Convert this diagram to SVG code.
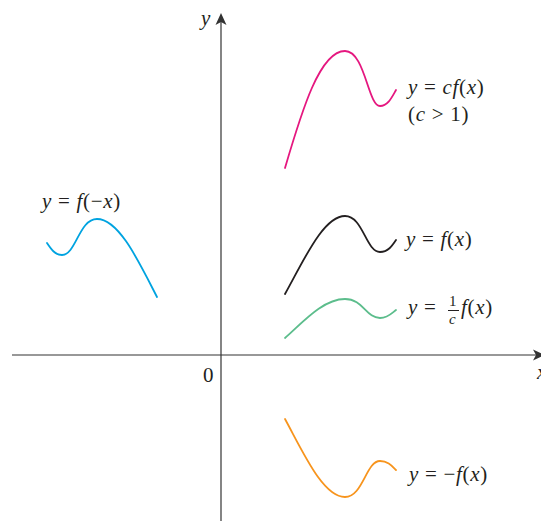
<svg xmlns="http://www.w3.org/2000/svg" width="541" height="522" viewBox="0 0 541 522">
<defs>
<style>
.ax{stroke:#333;stroke-width:1.2;fill:none}
.cv{fill:none;stroke-width:1.8;stroke-linecap:round}
text{font-family:"Liberation Serif","Times New Roman",serif;font-size:21px;fill:#231f20;letter-spacing:0.7px}
.i{font-style:italic}
</style>
</defs>
<rect width="541" height="522" fill="#fff"/>
<g id="axes">
<line class="ax" x1="12" y1="355" x2="538" y2="355"/>
<path d="M545,355 L533,349.5 L536,355 L533,360.5 Z" fill="#333"/>
<line class="ax" x1="221" y1="521" x2="221" y2="20"/>
<path d="M221,13 L215.5,25 L221,22 L226.5,25 Z" fill="#333"/>
<text class="i" x="201" y="25">y</text>
<text x="203" y="382">0</text>
<text class="i" x="537" y="379">x</text>
</g>
<g id="connectors">
<path id="cf" class="cv" stroke="#e5177f" d="M285,168 C302,110 320,51 345,51 C365,51 368,106 380,106 C388,106 392,97 396,90"/>
<path id="f" class="cv" stroke="#231f20" d="M285,294 C303,262 323,216 345,216 C363,216 366,252 380,252 C388,252 392,246 396,240"/>
<path id="fc" class="cv" stroke="#5cbd8c" d="M285,338 C303,322 323,299 345,299 C363,299 366,318 380,318 C388,318 392,313 396,310"/>
<path id="negf" class="cv" stroke="#f7941d" d="M285,419 C303,452 323,497 345,497 C363,497 366,461 380,461 C388,461 392,466 396,470"/>
<path id="fneg" class="cv" stroke="#00a3e0" d="M157,297 C139,262 119,219 97,219 C79,219 76,255 62,255 C55,255 51,249 47,243"/>
</g>
<g id="label-cf">
<text x="408" y="94"><tspan class="i">y</tspan> = <tspan class="i">cf</tspan>(<tspan class="i">x</tspan>)</text>
<text x="408" y="121">(<tspan class="i">c</tspan> &gt; 1)</text>
</g>
<g id="label-f">
<text x="406" y="246"><tspan class="i">y</tspan> = <tspan class="i">f</tspan>(<tspan class="i">x</tspan>)</text>
</g>
<g id="label-fc">
<text x="408" y="314"><tspan class="i">y</tspan> =</text>
<text x="449" y="306" style="font-size:15px">1</text>
<line x1="448" y1="310.5" x2="459" y2="310.5" stroke="#231f20" stroke-width="1"/>
<text class="i" x="449" y="324" style="font-size:15px">c</text>
<text x="461" y="314"><tspan class="i">f</tspan>(<tspan class="i">x</tspan>)</text>
</g>
<g id="label-negf">
<text x="409" y="481"><tspan class="i">y</tspan> = −<tspan class="i">f</tspan>(<tspan class="i">x</tspan>)</text>
</g>
<g id="label-fneg">
<text x="42" y="208"><tspan class="i">y</tspan> = <tspan class="i">f</tspan>(−<tspan class="i">x</tspan>)</text>
</g>
</svg>
